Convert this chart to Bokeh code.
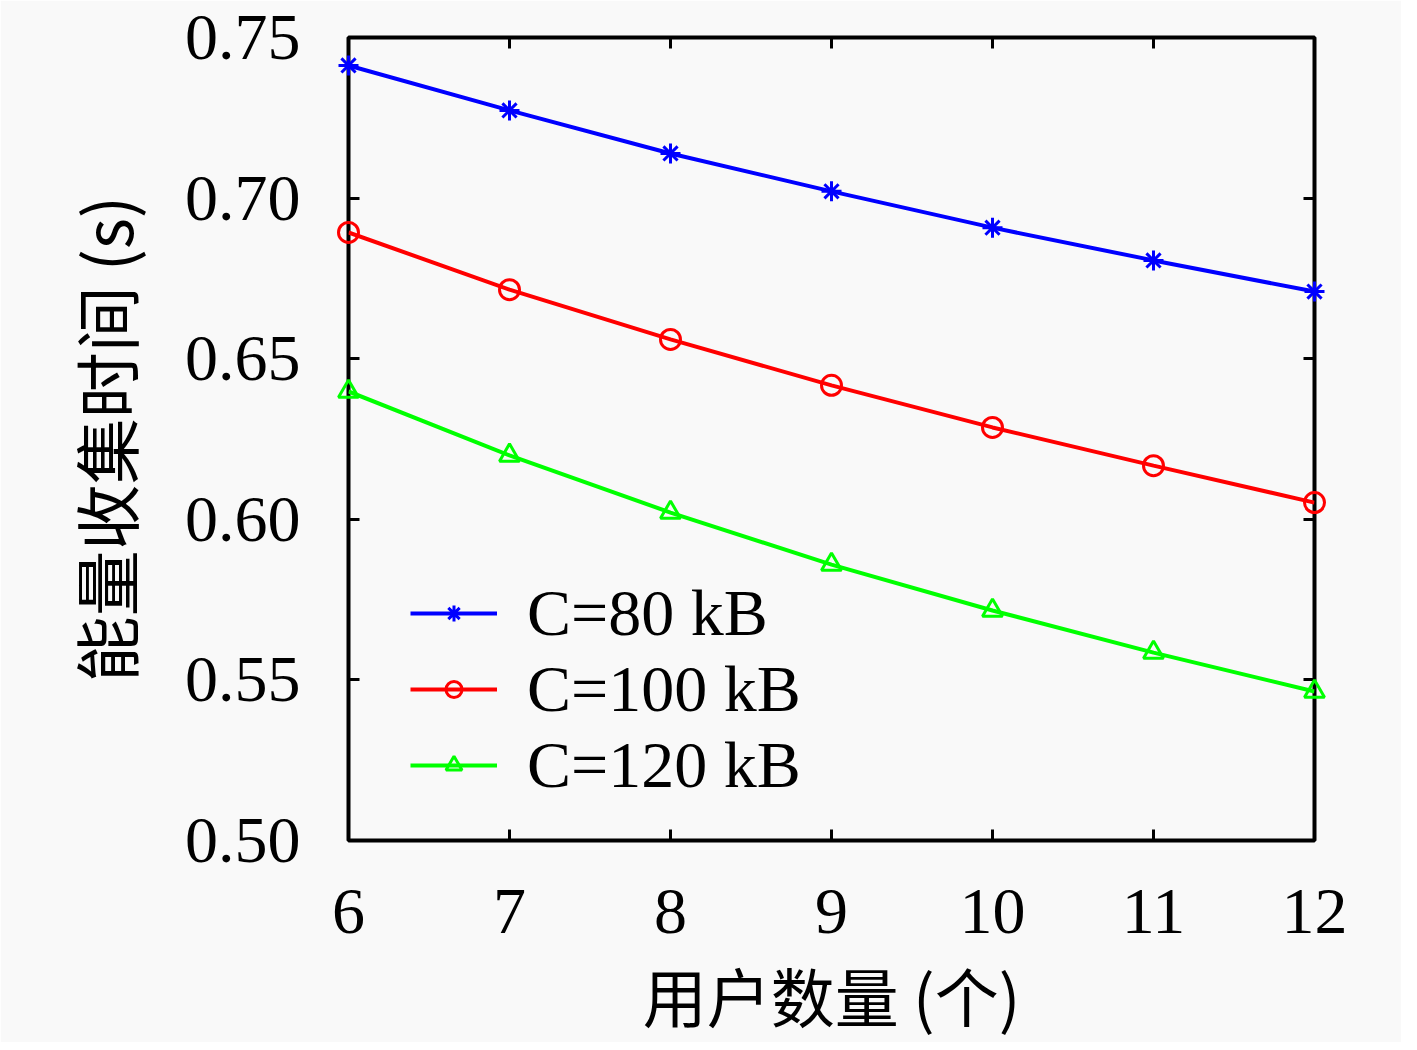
from bokeh.plotting import figure
from bokeh.models import Range1d, LinearAxis, FixedTicker, Legend, LegendItem, PrintfTickFormatter
from bokeh.embed import file_html
from bokeh.resources import INLINE

users = [6, 7, 8, 9, 10, 11, 12]
c80 = [0.7413, 0.7273, 0.7139, 0.7021, 0.6908, 0.6806, 0.6709]
c100 = [0.6893, 0.6715, 0.6560, 0.6417, 0.6286, 0.6167, 0.6052]
c120 = [0.6398, 0.6199, 0.6021, 0.5859, 0.5716, 0.5585, 0.5464]
labels = ["C=80 kB", "C=100 kB", "C=120 kB"]
x_ticks = [6, 7, 8, 9, 10, 11, 12]
y_ticks = [0.50, 0.55, 0.60, 0.65, 0.70, 0.75]

BG = "#f9f9f9"
SERIF = "Liberation Serif"
CJK = "Noto Sans CJK SC"

p = figure(width=1401, height=1034, output_backend="svg", toolbar_location=None,
           x_range=Range1d(6, 12), y_range=Range1d(0.5, 0.75))
p.frame_width = 966
p.frame_height = 803
p.min_border_left = 348
p.min_border_top = 37
p.min_border_right = 87
p.min_border_bottom = 194
p.background_fill_color = BG
p.border_fill_color = BG
p.outline_line_color = "black"
p.outline_line_width = 4
p.grid.visible = False

def style_axis(ax, show_labels):
    ax.axis_line_color = None
    ax.major_tick_in = 11
    ax.major_tick_out = 0
    ax.major_tick_line_width = 3
    ax.major_tick_line_color = "black"
    ax.minor_tick_line_color = None
    if show_labels:
        ax.major_label_text_font = SERIF
        ax.major_label_text_font_size = "66px"
        ax.major_label_text_color = "black"
    else:
        ax.major_label_text_font_size = "0px"
        ax.major_label_text_color = None

xa = p.xaxis[0]
xa.ticker = FixedTicker(ticks=x_ticks)
style_axis(xa, True)
xa.major_label_standoff = 49
xa.axis_label = "用户数量 (个)"
xa.axis_label_text_font = CJK
xa.axis_label_text_font_size = "64px"
xa.axis_label_text_font_style = "normal"
xa.axis_label_text_color = "black"
xa.axis_label_standoff = 12

ya = p.yaxis[0]
ya.ticker = FixedTicker(ticks=y_ticks)
ya.formatter = PrintfTickFormatter(format="%.2f")
style_axis(ya, True)
ya.major_label_standoff = 48
ya.axis_label = "能量收集时间 (s)"
ya.axis_label_text_font = CJK
ya.axis_label_text_font_size = "66px"
ya.axis_label_text_font_style = "normal"
ya.axis_label_text_color = "black"
ya.axis_label_standoff = 30

top = LinearAxis(ticker=FixedTicker(ticks=x_ticks))
style_axis(top, False)
p.add_layout(top, "above")
right = LinearAxis(ticker=FixedTicker(ticks=y_ticks))
style_axis(right, False)
p.add_layout(right, "right")

series = [(c80, "#0000ff", "asterisk"), (c100, "#ff0000", "circle"), (c120, "#00ff00", "triangle")]
items = []
for (vals, col, mk), lab in zip(series, labels):
    l = p.line(users, vals, line_color=col, line_width=4)
    m = p.scatter(users, vals, marker=mk, size=20, line_color=col, fill_color=None,
                  line_width=3, level="overlay")
    items.append(LegendItem(label=lab, renderers=[l, m]))

leg = Legend(items=items, location=(62, 37))
leg.background_fill_alpha = 0
leg.border_line_color = None
leg.label_text_font = SERIF
leg.label_text_font_size = "66px"
leg.label_text_color = "black"
leg.label_height = 73
leg.glyph_width = 87
leg.glyph_height = 40
leg.label_standoff = 30
leg.spacing = 0
leg.padding = 0
leg.margin = 0
p.add_layout(leg, "center")

open("out.html", "w").write(file_html(p, INLINE))
